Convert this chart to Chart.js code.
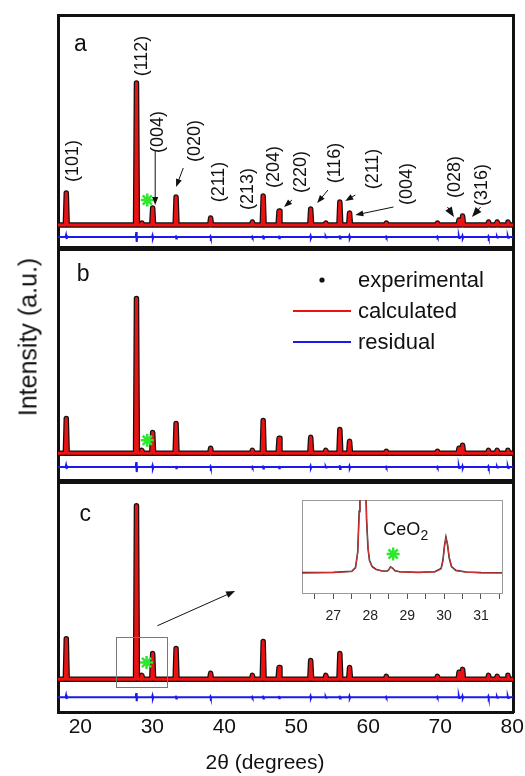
<!DOCTYPE html>
<html>
<head>
<meta charset="utf-8">
<script src="https://cdn.jsdelivr.net/npm/chart.js@4.4.1/dist/chart.umd.min.js"></script>
<style>
  html, body { margin: 0; padding: 0; background: #fff; }
  #wrap { position: relative; width: 525px; height: 776px; overflow: hidden; background: #fff;
          font-family: 'Liberation Sans', Arial, Helvetica, sans-serif; color: #111; }
  #wrap canvas { position: absolute; }
  #yTitle { position: absolute; left: 28px; top: 337px; transform: translate(-50%, -50%) rotate(-90deg);
            font-size: 25px; white-space: nowrap; }
  #xTitle { position: absolute; left: 265px; top: 762px; transform: translate(-50%, -50%);
            font-size: 21px; white-space: nowrap; }
</style>
</head>
<body>
<div id="wrap">
  <canvas id="panelA" width="560" height="260" style="left:0;top:0"></canvas>
  <canvas id="panelB" width="560" height="250" style="left:0;top:240px"></canvas>
  <canvas id="panelC" width="560" height="303" style="left:0;top:473px"></canvas>
  <canvas id="inset" width="225" height="140" style="left:290px;top:490px"></canvas>
  <div id="yTitle">Intensity (a.u.)</div>
  <div id="xTitle">2θ (degrees)</div>
</div>
<script>
// ─── 데이터 ──────────────────────────────────────────────────────────────────
const X_MIN = 16.9;
const X_MAX = 80.1;
const xTicks = [20, 30, 40, 50, 60, 70, 80];

// 반사 위치 (2θ) 와 패널별 피크 높이 (기준선 위, a.u.)
const peakPos = [18.05, 27.8, 28.55, 30.05, 33.3, 38.1, 43.9, 45.4, 47.6, 52.0, 54.1, 56.05, 57.4, 62.5, 69.6, 72.6, 73.1, 76.7, 77.9, 79.4];
const heightA = [32, 142, 2, 17, 28, 7, 3, 29, 14, 16, 2, 23, 12, 2, 2, 5, 9, 3, 3, 3];
const heightB = [35, 156, 3, 21, 30, 5, 3, 33, 15, 16, 3, 24, 12, 2, 2, 5, 8, 3, 3, 3];
const heightC = [41, 175, 4, 26, 31, 6, 4, 38, 12, 19, 4, 26, 12, 3, 3, 7, 10, 4, 3, 4];

// 잔차 (residual) 진폭과 기준 오프셋
const residA = [2, 5, 0, 1.5, 1.5, 0.8, 0.5, 1.5, 1.2, 1.2, 0.5, 1.5, 1.2, 0.5, 0.5, 1, 1.2, 0.8, 0.5, 0.8];
const residB = [2, 5, 0, 1.5, 1.2, 0.8, 0.5, 1.5, 1.2, 1.2, 0.5, 2, 1.2, 0.5, 0.5, 1, 1.2, 0.8, 0.5, 0.8];
const residC = [2, 4, 0, 1.5, 1.5, 0.8, 0.5, 1.5, 1.2, 1.2, 0.5, 1.5, 1.2, 0.5, 0.5, 1, 1.2, 1, 0.5, 0.8];
const residBase = [-12, -14, -18];

// CeO2 표시 (*)
const starA = [{ x: 29.3, y: 25 }];
const starB = [{ x: 29.3, y: 13 }];
const starC = [{ x: 29.2, y: 17 }];

// 밀러 지수 라벨
const hklText = ['(101)', '(112)', '(004)', '(020)', '(211)', '(213)', '(204)', '(220)', '(116)', '(211)', '(004)', '(028)', '(316)'];

// 삽입 그래프 (26–31.5°)
const insetTicks = [26.5, 27, 27.5, 28, 28.5, 29, 29.5, 30, 30.5, 31, 31.5];
const insetX    = [26.15, 27.0, 27.5, 27.6, 27.66, 27.7, 27.72, 27.87, 27.9, 27.94, 27.98, 28.05, 28.15, 28.3, 28.45, 28.5, 28.55, 28.6, 28.67, 28.8, 29.3, 29.75, 29.92, 29.97, 30.01, 30.05, 30.09, 30.14, 30.2, 30.32, 30.6, 31.0, 31.57];
const insetCalc = [0, 0.5, 1.5, 5, 20, 60, 100, 100, 55, 25, 12, 6, 3.5, 2, 1.5, 3, 6, 5, 2.5, 1, 0.5, 1, 4, 12, 26, 35, 30, 16, 7, 2.5, 0.8, 0.2, 0];
const insetExp  = [0.4, 0.6, 1.8, 5.5, 21, 62, 100, 100, 53, 24, 12.5, 6.5, 3.8, 2.3, 1.8, 3.2, 6.2, 5, 2.3, 1.2, 0.6, 1.2, 4.5, 13, 27, 36, 29, 15, 6.5, 2.6, 1, 0.4, 0.2];
const starInset = [{ x: 28.62, y: 19 }];

// ─── 스타일 ──────────────────────────────────────────────────────────────────
const FONT = "'Liberation Sans', Arial, Helvetica, sans-serif";
const RED = '#ee1111';
const BLUE = '#1a1aee';
const BLACK = '#111111';
const GREEN = '#2ee82e';
Chart.defaults.font.family = FONT;
Chart.defaults.color = BLACK;

// ─── 프로파일 만들기 ─────────────────────────────────────────────────────────
function pattern(heights) {
  const pts = [{ x: X_MIN, y: 0 }];
  peakPos.forEach((p, i) => {
    pts.push({ x: p - 0.13, y: 0 }, { x: p, y: heights[i] }, { x: p + 0.13, y: 0 });
  });
  pts.push({ x: X_MAX, y: 0 });
  return pts;
}

function residual(amps, base) {
  const pts = [{ x: X_MIN, y: base }];
  peakPos.forEach((p, i) => {
    if (!amps[i]) return;
    pts.push({ x: p - 0.1, y: base }, { x: p - 0.03, y: base + amps[i] },
             { x: p + 0.03, y: base - amps[i] }, { x: p + 0.1, y: base });
  });
  pts.push({ x: X_MAX, y: base });
  return pts;
}

// ─── 주석 플러그인 (라벨, 화살표, 범례) ──────────────────────────────────────
function drawArrow(ctx, x1, y1, x2, y2, head, width) {
  const a = Math.atan2(y2 - y1, x2 - x1);
  const c = Math.cos(a), s = Math.sin(a);
  ctx.lineWidth = width;
  ctx.beginPath();
  ctx.moveTo(x1, y1);
  ctx.lineTo(x2 - head * 0.8 * c, y2 - head * 0.8 * s);
  ctx.stroke();
  ctx.beginPath();
  ctx.moveTo(x2, y2);
  ctx.lineTo(x2 - head * c + head * 0.38 * s, y2 - head * s - head * 0.38 * c);
  ctx.lineTo(x2 - head * c - head * 0.38 * s, y2 - head * s + head * 0.38 * c);
  ctx.closePath();
  ctx.fill();
}

const decor = {
  id: 'decor',
  afterDatasetsDraw(chart, args, opts) {
    const { ctx, chartArea } = chart;
    const px = (v) => chart.scales.x.getPixelForValue(v);
    const py = (v) => chart.scales.y.getPixelForValue(v);
    ctx.save();
    (opts.boxes || []).forEach((b) => {
      ctx.strokeStyle = b.color;
      ctx.lineWidth = 1;
      const x1 = Math.round(px(b.from[0])) + 0.5, y1 = Math.round(py(b.from[1])) + 0.5;
      const x2 = Math.round(px(b.to[0])) + 0.5, y2 = Math.round(py(b.to[1])) + 0.5;
      ctx.strokeRect(x1, y1, x2 - x1, y2 - y1);
    });
    (opts.arrows || []).forEach((a) => {
      ctx.strokeStyle = BLACK;
      ctx.fillStyle = BLACK;
      drawArrow(ctx, px(a.from[0]), py(a.from[1]), px(a.to[0]), py(a.to[1]), a.head || 8, a.width || 1);
    });
    (opts.texts || []).forEach((t) => {
      ctx.save();
      ctx.translate(px(t.x), py(t.y));
      ctx.rotate(t.rot || 0);
      ctx.font = t.font;
      ctx.fillStyle = t.color || BLACK;
      ctx.textAlign = t.align || 'center';
      ctx.textBaseline = t.baseline || 'middle';
      ctx.fillText(t.text, 0, 0);
      ctx.restore();
    });
    if (opts.legend) {
      const L = opts.legend;
      ctx.font = L.font;
      ctx.textAlign = 'left';
      ctx.textBaseline = 'middle';
      L.items.forEach((it, i) => {
        const x = chartArea.left + L.x;
        const y = chartArea.top + L.y + i * L.gap;
        if (it.type === 'dot') {
          ctx.fillStyle = it.color;
          ctx.beginPath();
          ctx.arc(x + L.lineLen / 2, y, 2.6, 0, Math.PI * 2);
          ctx.fill();
        } else {
          ctx.strokeStyle = it.color;
          ctx.lineWidth = 2;
          ctx.beginPath();
          ctx.moveTo(x, y);
          ctx.lineTo(x + L.lineLen, y);
          ctx.stroke();
        }
        ctx.fillStyle = BLACK;
        ctx.fillText(it.label, x + L.textGap, y + 1);
      });
    }
    ctx.restore();
  },
};

// ─── 패널 ────────────────────────────────────────────────────────────────────
const frame = { display: true, color: BLACK, width: 3 };

function makePanel(id, p) {
  return new Chart(document.getElementById(id), {
    type: 'scatter',
    data: {
      datasets: [
        { label: 'CeO2', data: p.star, pointStyle: 'star', pointRadius: 6.5, borderColor: GREEN,
          backgroundColor: GREEN, pointBorderWidth: 2.5, showLine: false, order: 0 },
        { label: 'calculated', data: pattern(p.heights), showLine: true, borderColor: RED, borderWidth: 3,
          borderJoinStyle: 'round', pointRadius: 0, order: 1 },
        { label: 'residual', data: residual(p.resid, p.residBase), showLine: true, borderColor: BLUE,
          borderWidth: 2, pointRadius: 0, order: 2 },
        { label: 'experimental', data: pattern(p.heights), showLine: true, borderColor: BLACK, borderWidth: 5.5,
          borderJoinStyle: 'round', pointRadius: 0, order: 3 },
      ],
    },
    options: {
      responsive: false,
      devicePixelRatio: 1,
      animation: false,
      events: [],
      layout: { padding: 0 },
      plugins: { legend: { display: false }, tooltip: { enabled: false }, decor: p.decor },
      scales: {
        x: {
          type: 'linear', position: 'bottom', min: X_MIN, max: X_MAX,
          afterBuildTicks: (s) => { s.ticks = xTicks.map((v) => ({ value: v })); },
          afterFit: (s) => { s.height = p.bottom; },
          grid: { display: false }, border: frame,
          ticks: { display: !!p.showTicks, font: { size: 21 }, color: BLACK, padding: -5, maxRotation: 0 },
        },
        x2: {
          type: 'linear', position: 'top', min: X_MIN, max: X_MAX, display: true,
          afterFit: (s) => { s.height = p.top; },
          grid: { display: false }, border: frame, ticks: { display: false },
        },
        y: {
          type: 'linear', position: 'left', min: p.yRange[0], max: p.yRange[1],
          afterFit: (s) => { s.width = 58; },
          grid: { display: false }, border: frame, ticks: { display: false },
        },
        y2: {
          type: 'linear', position: 'right', min: 0, max: 1, display: true,
          afterFit: (s) => { s.width = 47; },
          grid: { display: false }, border: frame, ticks: { display: false },
        },
      },
    },
    plugins: [decor],
  });
}

const LABEL_FONT = '18px ' + FONT;
const LETTER_FONT = '23px ' + FONT;
const hklAt = [[19.0, 64], [28.6, 169], [30.8, 93], [36.0, 84], [39.2, 43], [43.3, 36], [46.9, 58],
               [50.6, 53], [55.4, 62], [60.7, 56], [65.4, 41], [72.1, 48], [75.8, 40]];

makePanel('panelA', {
  heights: heightA, resid: residA, residBase: residBase[0], star: starA,
  yRange: [-22, 210], top: 15, bottom: 13,
  decor: {
    texts: [{ text: 'a', x: 20.0, y: 180, font: LETTER_FONT }].concat(
      hklText.map((t, i) => ({ text: t, x: hklAt[i][0], y: hklAt[i][1], font: LABEL_FONT, rot: -Math.PI / 2 }))),
    arrows: [
      { from: [30.4, 75], to: [30.4, 20] },
      { from: [34.3, 57], to: [33.3, 38] },
      { from: [49.4, 25], to: [48.3, 18] },
      { from: [54.4, 35], to: [52.9, 22] },
      { from: [58.2, 30], to: [56.8, 24] },
      { from: [63.5, 18], to: [58.2, 10] },
      { from: [71.0, 18], to: [71.9, 8], head: 10 },
      { from: [75.6, 18], to: [74.4, 8], head: 10 },
    ],
  },
});

makePanel('panelB', {
  heights: heightB, resid: residB, residBase: residBase[1], star: starB,
  yRange: [-27, 206], top: 7, bottom: 10,
  decor: {
    texts: [{ text: 'b', x: 20.4, y: 180, font: LETTER_FONT }],
    legend: {
      x: 235, y: 31, gap: 31, lineLen: 58, textGap: 65, font: '22px ' + FONT,
      items: [
        { label: 'experimental', type: 'dot', color: BLACK },
        { label: 'calculated', type: 'line', color: RED },
        { label: 'residual', type: 'line', color: BLUE },
      ],
    },
  },
});

makePanel('panelC', {
  heights: heightC, resid: residC, residBase: residBase[2], star: starC,
  yRange: [-33, 199], top: 7, bottom: 64, showTicks: true,
  decor: {
    texts: [{ text: 'c', x: 20.7, y: 166, font: LETTER_FONT }],
    boxes: [{ from: [25.0, 43], to: [32.1, -8], color: '#777' }],
    arrows: [{ from: [30.7, 54], to: [41.5, 89], head: 9, width: 1 }],
  },
});

// ─── 삽입 그래프 ─────────────────────────────────────────────────────────────
const insetFrame = { display: true, color: '#999', width: 1 };
new Chart(document.getElementById('inset'), {
  type: 'scatter',
  data: {
    datasets: [
      { label: 'CeO2', data: starInset, pointStyle: 'star', pointRadius: 6.5, borderColor: GREEN,
        pointBorderWidth: 2.5, showLine: false, order: 0 },
      { label: 'calculated', data: insetX.map((x, i) => ({ x, y: insetCalc[i] })), showLine: true,
        borderColor: '#e03030', borderWidth: 1, pointRadius: 0, order: 1 },
      { label: 'experimental', data: insetX.map((x, i) => ({ x, y: insetExp[i] })), showLine: true,
        borderColor: '#333', borderWidth: 1.6, pointRadius: 0, order: 2 },
    ],
  },
  options: {
    responsive: false,
    devicePixelRatio: 1,
    animation: false,
    events: [],
    layout: { padding: 0 },
    plugins: {
      legend: { display: false }, tooltip: { enabled: false },
      decor: {
        texts: [
          { text: 'CeO', x: 28.35, y: 38, font: '18px ' + FONT, align: 'left', baseline: 'alphabetic' },
          { text: '2', x: 29.36, y: 33, font: '14px ' + FONT, align: 'left', baseline: 'alphabetic' },
        ],
      },
    },
    scales: {
      x: {
        type: 'linear', position: 'bottom', min: 26.15, max: 31.57,
        afterBuildTicks: (s) => { s.ticks = insetTicks.map((v) => ({ value: v })); },
        afterFit: (s) => { s.height = 37; },
        grid: { display: true, drawOnChartArea: false, drawTicks: true, tickLength: 6, color: '#555' },
        border: insetFrame,
        ticks: { font: { size: 14 }, color: '#222', padding: 9, maxRotation: 0,
                 callback: (v) => (Number.isInteger(v) ? v : '') },
      },
      x2: {
        type: 'linear', position: 'top', min: 26.15, max: 31.57, display: true,
        afterFit: (s) => { s.height = 10; },
        grid: { display: false }, border: insetFrame, ticks: { display: false },
      },
      y: {
        type: 'linear', position: 'left', min: -20, max: 73,
        afterFit: (s) => { s.width = 12; },
        grid: { display: false }, border: insetFrame, ticks: { display: false },
      },
      y2: {
        type: 'linear', position: 'right', min: 0, max: 1, display: true,
        afterFit: (s) => { s.width = 13; },
        grid: { display: false }, border: insetFrame, ticks: { display: false },
      },
    },
  },
  plugins: [decor],
});
</script>
</body>
</html>
